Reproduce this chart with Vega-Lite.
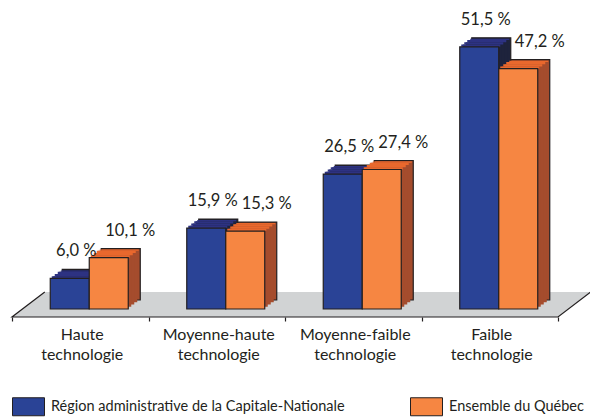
{
  "$schema": "https://vega.github.io/schema/vega-lite/v6.json",
  "width": 546,
  "height": 280,
  "autosize": {"type": "none"},
  "padding": {"left": 12, "top": 29, "right": 32, "bottom": 108},
  "background": "white",
  "config": {"view": {"stroke": null}, "font": "Lato"},
  "resolve": {"scale": {"x": "independent"}},
  "layer": [
    {
      "encoding": {
        "x": {"field": "fx", "type": "quantitative", "scale": {"domain": [0, 4], "nice": false, "zero": false},
              "axis": {"orient": "bottom", "values": [0, 1, 2, 3, 4], "labels": false, "domain": false, "grid": false, "ticks": true, "tickSize": 4, "tickColor": "#231f20", "tickWidth": 1.2, "offset": 8, "title": null}},
        "y": {"field": "fy", "type": "quantitative", "scale": {"domain": [0, 55], "nice": false, "zero": false}, "axis": null}
      },
      "layer": [
        {
          "data": {"values": [{"fx": 0, "fx2": 4, "fy": -1.57}, {"fx": 0.24, "fx2": 4.24, "fy": 3.34}]},
          "mark": {"type": "area", "orient": "horizontal", "fill": "#d1d3d4"},
          "encoding": {"x2": {"field": "fx2"}}
        },
        {
          "data": {"values": [{"fx": 0.24, "fy": 3.34, "o": 1}, {"fx": 0, "fy": -1.57, "o": 2}, {"fx": 4, "fy": -1.57, "o": 3}, {"fx": 4.24, "fy": 3.34, "o": 4}]},
          "mark": {"type": "line", "stroke": "#231f20", "strokeWidth": 1.2},
          "encoding": {"order": {"field": "o", "type": "quantitative"}}
        }
      ]
    },
    {
      "data": {"values": [
        {"cat": "Haute technologie", "series": "Région administrative de la Capitale-Nationale", "value": 6.0, "label": "6,0 %"},
        {"cat": "Haute technologie", "series": "Ensemble du Québec", "value": 10.1, "label": "10,1 %"},
        {"cat": "Moyenne-haute technologie", "series": "Région administrative de la Capitale-Nationale", "value": 15.9, "label": "15,9 %"},
        {"cat": "Moyenne-haute technologie", "series": "Ensemble du Québec", "value": 15.3, "label": "15,3 %"},
        {"cat": "Moyenne-faible technologie", "series": "Région administrative de la Capitale-Nationale", "value": 26.5, "label": "26,5 %"},
        {"cat": "Moyenne-faible technologie", "series": "Ensemble du Québec", "value": 27.4, "label": "27,4 %"},
        {"cat": "Faible technologie", "series": "Région administrative de la Capitale-Nationale", "value": 51.5, "label": "51,5 %"},
        {"cat": "Faible technologie", "series": "Ensemble du Québec", "value": 47.2, "label": "47,2 %"}
      ]},
      "encoding": {
        "x": {"field": "cat", "type": "nominal",
              "sort": ["Haute technologie", "Moyenne-haute technologie", "Moyenne-faible technologie", "Faible technologie"],
              "scale": {"paddingInner": 0, "paddingOuter": 0},
              "axis": {"orient": "bottom", "offset": 8, "ticks": false, "domain": false, "grid": false, "labelAngle": 0,
                       "labelExpr": "split(datum.value, ' ')", "labelFont": "Lato", "labelFontSize": 16, "labelColor": "#231f20",
                       "labelLineHeight": 20.5, "labelPadding": 9, "labelOffset": 2, "title": null}},
        "y": {"field": "value", "type": "quantitative", "scale": {"domain": [0, 55], "nice": false, "zero": true}, "axis": null}
      },
      "layer": [
        {"transform": [{"filter": {"field": "series", "equal": "Région administrative de la Capitale-Nationale"}}],
         "mark": {"type": "bar", "width": 39, "xOffset": 1.5, "yOffset": -9, "y2Offset": -9, "fill": "#1e233c", "stroke": "#231f20", "strokeWidth": 1.2},
         "encoding": {"y2": {"datum": 0}}},
        {"transform": [{"filter": {"field": "series", "equal": "Région administrative de la Capitale-Nationale"}}],
         "mark": {"type": "bar", "width": 39, "xOffset": -1.5, "yOffset": -6.75, "y2Offset": -6.75, "fill": "#1e233c"},
         "encoding": {"y2": {"datum": 0}}},
        {"transform": [{"filter": {"field": "series", "equal": "Région administrative de la Capitale-Nationale"}}],
         "mark": {"type": "bar", "width": 39, "xOffset": -4.5, "yOffset": -4.5, "y2Offset": -4.5, "fill": "#1e233c"},
         "encoding": {"y2": {"datum": 0}}},
        {"transform": [{"filter": {"field": "series", "equal": "Région administrative de la Capitale-Nationale"}}],
         "mark": {"type": "bar", "width": 39, "xOffset": -7.5, "yOffset": -2.25, "y2Offset": -2.25, "fill": "#1e233c"},
         "encoding": {"y2": {"datum": 0}}},
        {"transform": [{"filter": {"field": "series", "equal": "Région administrative de la Capitale-Nationale"}}],
         "mark": {"type": "bar", "width": 39, "xOffset": 0, "yOffset": -8, "y2Offset": -6.75, "fill": "#2d3282"},
         "encoding": {"y2": {"field": "value"}}},
        {"transform": [{"filter": {"field": "series", "equal": "Région administrative de la Capitale-Nationale"}}],
         "mark": {"type": "bar", "width": 39, "xOffset": -3, "yOffset": -6.75, "y2Offset": -4.5, "fill": "#2d3282"},
         "encoding": {"y2": {"field": "value"}}},
        {"transform": [{"filter": {"field": "series", "equal": "Région administrative de la Capitale-Nationale"}}],
         "mark": {"type": "bar", "width": 39, "xOffset": -6, "yOffset": -4.5, "y2Offset": -2.25, "fill": "#2d3282"},
         "encoding": {"y2": {"field": "value"}}},
        {"transform": [{"filter": {"field": "series", "equal": "Région administrative de la Capitale-Nationale"}}],
         "mark": {"type": "bar", "width": 39, "xOffset": -9, "yOffset": -2.25, "y2Offset": 0, "fill": "#2d3282"},
         "encoding": {"y2": {"field": "value"}}},
        {"transform": [{"filter": {"field": "series", "equal": "Région administrative de la Capitale-Nationale"}}],
         "mark": {"type": "bar", "width": 39, "xOffset": -10.5, "stroke": "#231f20", "strokeWidth": 1.2},
         "encoding": {"y2": {"datum": 0},
           "color": {"field": "series", "type": "nominal",
             "scale": {"domain": ["Région administrative de la Capitale-Nationale", "Ensemble du Québec"], "range": ["#2a4396", "#f68642"]},
             "legend": {"orient": "none", "legendX": 0, "legendY": 361, "direction": "horizontal", "title": null,
               "symbolType": "M-1,-0.5625H1V0.5625H-1Z", "symbolSize": 1024, "symbolStrokeColor": "#231f20", "symbolStrokeWidth": 1,
               "labelFont": "Lato", "labelFontSize": 14.5, "labelColor": "#231f20", "labelOffset": 6, "labelLimit": 500, "columnPadding": 63}}}},
        {"transform": [{"filter": {"field": "series", "equal": "Ensemble du Québec"}}],
         "mark": {"type": "bar", "width": 39, "xOffset": 40.5, "yOffset": -9, "y2Offset": -9, "fill": "#a54c2d", "stroke": "#231f20", "strokeWidth": 1.2},
         "encoding": {"y2": {"datum": 0}}},
        {"transform": [{"filter": {"field": "series", "equal": "Ensemble du Québec"}}],
         "mark": {"type": "bar", "width": 39, "xOffset": 37.5, "yOffset": -6.75, "y2Offset": -6.75, "fill": "#a54c2d"},
         "encoding": {"y2": {"datum": 0}}},
        {"transform": [{"filter": {"field": "series", "equal": "Ensemble du Québec"}}],
         "mark": {"type": "bar", "width": 39, "xOffset": 34.5, "yOffset": -4.5, "y2Offset": -4.5, "fill": "#a54c2d"},
         "encoding": {"y2": {"datum": 0}}},
        {"transform": [{"filter": {"field": "series", "equal": "Ensemble du Québec"}}],
         "mark": {"type": "bar", "width": 39, "xOffset": 31.5, "yOffset": -2.25, "y2Offset": -2.25, "fill": "#a54c2d"},
         "encoding": {"y2": {"datum": 0}}},
        {"transform": [{"filter": {"field": "series", "equal": "Ensemble du Québec"}}],
         "mark": {"type": "bar", "width": 39, "xOffset": 39, "yOffset": -8, "y2Offset": -6.75, "fill": "#e9682d"},
         "encoding": {"y2": {"field": "value"}}},
        {"transform": [{"filter": {"field": "series", "equal": "Ensemble du Québec"}}],
         "mark": {"type": "bar", "width": 39, "xOffset": 36, "yOffset": -6.75, "y2Offset": -4.5, "fill": "#e9682d"},
         "encoding": {"y2": {"field": "value"}}},
        {"transform": [{"filter": {"field": "series", "equal": "Ensemble du Québec"}}],
         "mark": {"type": "bar", "width": 39, "xOffset": 33, "yOffset": -4.5, "y2Offset": -2.25, "fill": "#e9682d"},
         "encoding": {"y2": {"field": "value"}}},
        {"transform": [{"filter": {"field": "series", "equal": "Ensemble du Québec"}}],
         "mark": {"type": "bar", "width": 39, "xOffset": 30, "yOffset": -2.25, "y2Offset": 0, "fill": "#e9682d"},
         "encoding": {"y2": {"field": "value"}}},
        {"transform": [{"filter": {"field": "series", "equal": "Ensemble du Québec"}}],
         "mark": {"type": "bar", "width": 39, "xOffset": 28.5, "stroke": "#231f20", "strokeWidth": 1.2},
         "encoding": {"y2": {"datum": 0},
           "color": {"field": "series", "type": "nominal",
             "scale": {"domain": ["Région administrative de la Capitale-Nationale", "Ensemble du Québec"], "range": ["#2a4396", "#f68642"]}}}},
        {"transform": [{"filter": {"field": "series", "equal": "Région administrative de la Capitale-Nationale"}}],
         "mark": {"type": "text", "dx": -4, "dy": -22, "baseline": "alphabetic", "align": "center", "font": "Lato", "fontSize": 16.5, "fill": "#231f20"},
         "encoding": {"text": {"field": "label"}}},
        {"transform": [{"filter": {"field": "series", "equal": "Ensemble du Québec"}}],
         "mark": {"type": "text", "dx": 50, "dy": -22, "baseline": "alphabetic", "align": "center", "font": "Lato", "fontSize": 16.5, "fill": "#231f20"},
         "encoding": {"text": {"field": "label"}}}
      ]
    }
  ]
}
